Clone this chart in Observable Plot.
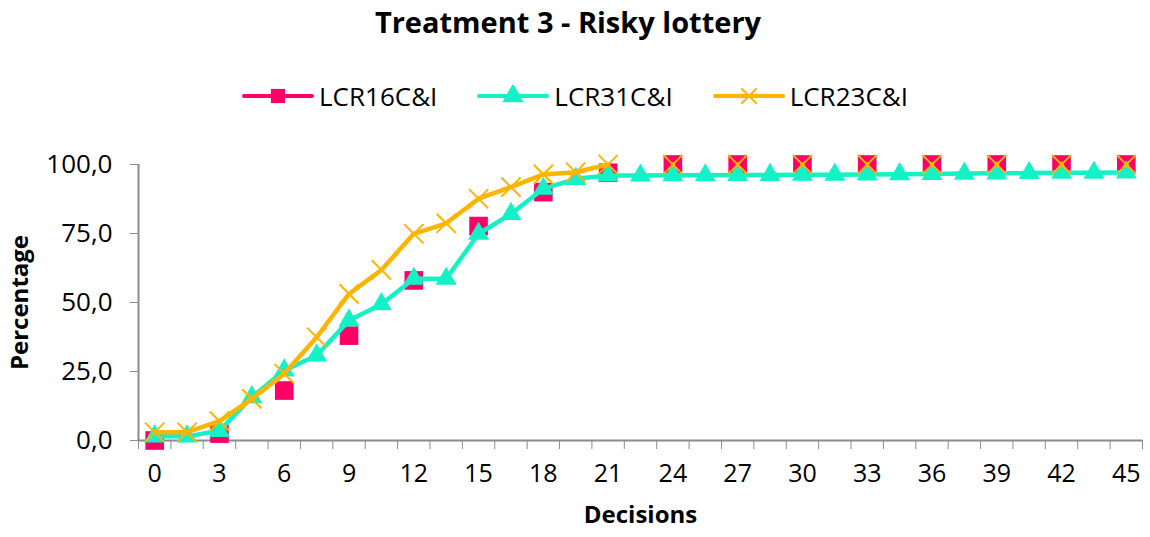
<!DOCTYPE html>
<html>
<head>
<meta charset="utf-8">
<script src="https://cdn.jsdelivr.net/npm/d3@7"></script>
<script src="https://cdn.jsdelivr.net/npm/@observablehq/plot@0.6"></script>
<style>
  html, body { margin: 0; padding: 0; background: #fff; }
  body { width: 1150px; height: 537px; overflow: hidden; font-family: "Open Sans", Lato, sans-serif; }
  #title { height: 60px; line-height: 44px; text-align: center; font-weight: bold; font-size: 29px; color: #000; padding-right: 14px; }
  #legend { height: 72px; display: flex; justify-content: center; align-items: center; gap: 40px; font-size: 26px; color: #000; box-sizing: border-box; }
  .item { display: flex; align-items: center; gap: 5px; }
  .item svg { display: block; }
</style>
</head>
<body>
<div id="title">Treatment 3 - Risky lottery</div>
<div id="legend"></div>
<div id="chart"></div>
<script>
// Decision categories along the horizontal axis
const decisions = [0, 1.5, 3, 4.5, 6, 7.5, 9, 10.5, 12, 13.5, 15, 16.5, 18, 19.5, 21,
  22.5, 24, 25.5, 27, 28.5, 30, 31.5, 33, 34.5, 36, 37.5, 39, 40.5, 42, 43.5, 45];

// Labelled categories
const tickLabels = [0, 3, 6, 9, 12, 15, 18, 21, 24, 27, 30, 33, 36, 39, 42, 45];
const yTicks = [0, 25, 50, 75, 100];

// Percentage per decision (null = no observation)
const lcr16 = [0, null, 2.5, null, 18.1, null, 38.0, null, 58.0, null, 77.7, null, 90.0, null, 97.0,
  null, 100, null, 100, null, 100, null, 100, null, 100, null, 100, null, 100, null, 100];
const lcr31 = [1.5, 1.5, 3.5, 15.7, 25.4, 30.8, 43.5, 49.4, 58.6, 58.6, 74.9, 82.1, 91.2, 94.8, 96.0,
  96.0, 96.1, 96.1, 96.2, 96.2, 96.3, 96.3, 96.4, 96.5, 96.6, 96.7, 96.8, 96.9, 97.0, 97.0, 97.1];
const lcr23 = [3.0, 3.0, 7.0, 15.1, 24.2, 37.4, 53.1, 61.8, 74.9, 78.7, 87.6, 91.8, 96.4, 97.2, 100,
  null, 100, null, 100, null, 100, null, 100, null, 100, null, 100, null, 100, null, 100];

const seriesNames = ["LCR16C&I", "LCR31C&I", "LCR23C&I"];
const seriesColors = ["#ff0066", "#12f2c6", "#ffb400"];
const seriesSymbols = ["square", "triangle", "times"];
const seriesValues = [lcr16, lcr31, lcr23];

const rows = seriesNames.map((name, s) =>
  decisions.map((d, i) => ({series: name, decision: d, pct: seriesValues[s][i]})));

// category boundaries (Excel-style tick marks between categories)
const half = (decisions[1] - decisions[0]) / 2;
const boundaries = [decisions[0] - half, ...decisions.map(d => d + half)];
const xDomain = [boundaries[0], boundaries[boundaries.length - 1]];

const axisGray = "#8c8c8c";
const fmt = d => d.toFixed(1).replace(".", ",");

const markerR = {square: 10.5, triangle: 7.8, times: 8.8};

const marks = [
  Plot.ruleY([0], {stroke: axisGray, strokeWidth: 2}),
  Plot.ruleX([xDomain[0]], {stroke: axisGray, strokeWidth: 2}),
  Plot.axisY({ticks: yTicks, tickFormat: fmt, tickSize: 8, tickPadding: 18, fontSize: 26, stroke: axisGray, color: "#000", label: null}),
  Plot.axisX({ticks: boundaries, tickFormat: () => "", tickSize: 9, stroke: axisGray, label: null}),
  Plot.axisX({ticks: tickLabels, tickSize: 0, tickPadding: 24, fontSize: 25, color: "#000", label: null}),
  Plot.text(["Percentage"], {frameAnchor: "left", textAnchor: "middle", dx: -118, rotate: -90, fontSize: 24, fontWeight: "bold", fill: "#000"}),
  Plot.text(["Decisions"], {frameAnchor: "bottom", dy: 82, fontSize: 24, fontWeight: "bold", fill: "#000"})
];

rows.forEach((data, s) => {
  marks.push(Plot.line(data, {x: "decision", y: "pct", stroke: seriesColors[s], strokeWidth: 4.5, strokeLinejoin: "round", strokeLinecap: "round"}));
  const sym = seriesSymbols[s];
  if (sym === "times") {
    marks.push(Plot.dot(data.filter(d => d.pct != null), {x: "decision", y: "pct", symbol: sym, r: markerR[sym], stroke: seriesColors[s], strokeWidth: 2}));
  } else {
    marks.push(Plot.dot(data.filter(d => d.pct != null), {x: "decision", y: "pct", symbol: sym, r: markerR[sym], fill: seriesColors[s], stroke: "none"}));
  }
});

const chart = Plot.plot({
  width: 1150,
  height: 405,
  marginTop: 32,
  marginBottom: 97,
  marginLeft: 138,
  marginRight: 8,
  style: {fontFamily: "'Open Sans', Lato, sans-serif", background: "#fff", overflow: "visible"},
  x: {type: "linear", domain: xDomain},
  y: {domain: [0, 100]},
  marks
});
document.getElementById("chart").appendChild(chart);

// Legend: line swatch with the series marker, then the name
const legend = d3.select("#legend");
seriesNames.forEach((name, s) => {
  const item = legend.append("div").attr("class", "item");
  const svg = item.append("svg").attr("width", 72).attr("height", 22);
  svg.append("line").attr("x1", 2).attr("x2", 70).attr("y1", 11).attr("y2", 11)
    .attr("stroke", seriesColors[s]).attr("stroke-width", 4).attr("stroke-linecap", "round");
  const symType = {square: d3.symbolSquare, triangle: d3.symbolTriangle, times: d3.symbolTimes}[seriesSymbols[s]];
  const path = svg.append("path").attr("transform", "translate(36,11)")
    .attr("d", d3.symbol(symType, seriesSymbols[s] === "times" ? 160 : 200)());
  if (seriesSymbols[s] === "times") path.attr("fill", "none").attr("stroke", seriesColors[s]).attr("stroke-width", 2);
  else path.attr("fill", seriesColors[s]);
  item.append("span").text(name);
});
</script>
</body>
</html>
